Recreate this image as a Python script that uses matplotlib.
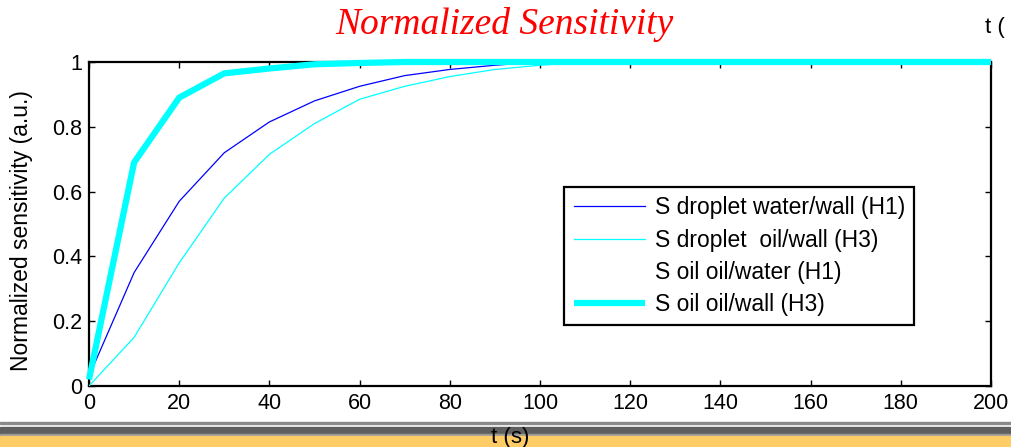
import numpy as np
import matplotlib
matplotlib.use("Agg")
import matplotlib.pyplot as plt
from matplotlib.patches import Rectangle

# ----------------------------
# DATA
# ----------------------------
t = [0, 10, 20, 30, 40, 50, 60, 70, 80, 90, 100, 110, 120, 130, 140, 150, 160, 170, 180, 190, 200]

s_droplet_water_wall = [0.03, 0.35, 0.57, 0.72, 0.815, 0.88, 0.925, 0.958, 0.977, 0.99, 1.0,
                        1.0, 1.0, 1.0, 1.0, 1.0, 1.0, 1.0, 1.0, 1.0, 1.0]
s_droplet_oil_wall = [0.0, 0.15, 0.38, 0.58, 0.715, 0.81, 0.885, 0.925, 0.955, 0.977, 0.99,
                      1.0, 1.0, 1.0, 1.0, 1.0, 1.0, 1.0, 1.0, 1.0, 1.0]
s_oil_oil_water = [0.02, 0.69, 0.89, 0.965, 0.98, 0.993, 0.997, 1.0, 1.0, 1.0, 1.0,
                   1.0, 1.0, 1.0, 1.0, 1.0, 1.0, 1.0, 1.0, 1.0, 1.0]
s_oil_oil_wall = [0.02, 0.69, 0.89, 0.965, 0.98, 0.993, 0.997, 1.0, 1.0, 1.0, 1.0,
                  1.0, 1.0, 1.0, 1.0, 1.0, 1.0, 1.0, 1.0, 1.0, 1.0]

labels = ["S droplet water/wall (H1)", "S droplet  oil/wall (H3)",
          "S oil oil/water (H1)", "S oil oil/wall (H3)"]

plt.rcParams["font.family"] = ["Liberation Sans Narrow", "Liberation Sans", "DejaVu Sans"]

W, H = 1011, 447
fig = plt.figure(figsize=(W / 100, H / 100), dpi=100)

# axes box in pixels: left 89, right 991, top 62, bottom 386
ax = fig.add_axes([89 / W, 1 - 386 / H, (991 - 89) / W, (386 - 62) / H])

ax.plot(t, s_droplet_water_wall, color="#0000FF", lw=0.9, label=labels[0], zorder=3)
ax.plot(t, s_droplet_oil_wall, color="#00FFFF", lw=0.9, label=labels[1], zorder=3)
ax.plot(t, s_oil_oil_water, color="white", lw=0.9, label=labels[2], zorder=2)
ax.plot(t, s_oil_oil_wall, color="#00FFFF", lw=4.5, label=labels[3], zorder=4,
        solid_capstyle="butt", clip_on=False)

ax.set_xlim(0, 200)
ax.set_ylim(0, 1)
ax.set_xticks(np.arange(0, 201, 20))
ax.set_yticks([0, 0.2, 0.4, 0.6, 0.8, 1])
ax.set_yticklabels(["0", "0.2", "0.4", "0.6", "0.8", "1"])
ax.tick_params(direction="in", top=True, right=True, length=4, width=1,
               labelsize=15.5, pad=5, colors="black")
for sp in ax.spines.values():
    sp.set_linewidth(1.6)

ax.set_ylabel("Normalized sensitivity (a.u.)", fontsize=16.5)
ax.yaxis.set_label_coords(-(89 - 33) / (991 - 89), 0.48)

leg = ax.legend(loc="lower left", bbox_to_anchor=(0.527, 0.188), fontsize=16.5,
                fancybox=False, framealpha=1, edgecolor="black",
                handlelength=3.1, handletextpad=0.45, labelspacing=0.4,
                borderpad=0.4, borderaxespad=0)
leg.get_frame().set_linewidth(1.6)

# title (red italic serif)
fig.text(504 / W, 1 - 25 / H, "Normalized Sensitivity", color="red",
         fontsize=27, style="italic", family=["Liberation Serif", "DejaVu Serif"],
         ha="center", va="center")
fig.text(985 / W, 1 - 27 / H, "t (", fontsize=16, ha="left", va="center")

# bottom strip with the x label
fig.patches.append(Rectangle((0, 1 - 424 / H), 1, 2 / H, transform=fig.transFigure,
                             color="#8a8a8a", zorder=0))
fig.patches.append(Rectangle((0, 1 - 434 / H), 1, 7 / H, transform=fig.transFigure,
                             color="#5f5f5f", zorder=0))
fig.patches.append(Rectangle((0, 1 - 436 / H), 1, 2 / H, transform=fig.transFigure,
                             color="#9a9a9a", zorder=0))
fig.patches.append(Rectangle((0, 0), 1, 11 / H, transform=fig.transFigure,
                             color="#FFCC66", zorder=0))
fig.text(510 / W, 1 - 437 / H, "t (s)", fontsize=16, ha="center", va="center")

fig.savefig("out.png", dpi=100)
